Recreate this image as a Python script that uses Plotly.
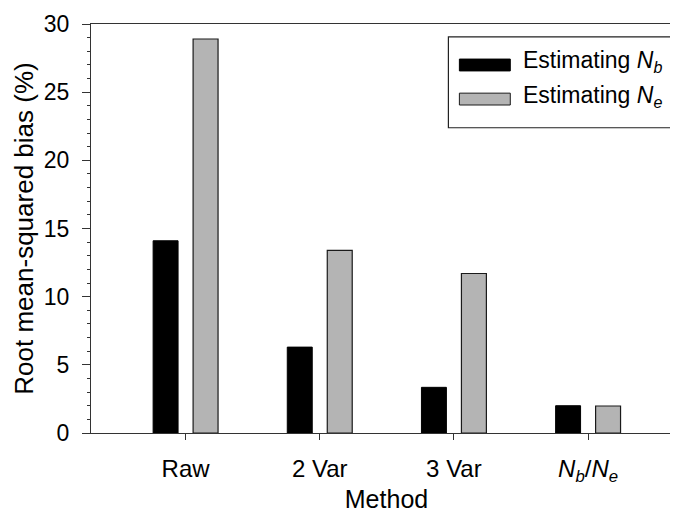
import plotly.graph_objects as go

categories = ["Raw", "2 Var", "3 Var", "Nb/Ne"]
tick_labels = ["Raw", "2 Var", "3 Var", "<i>N<sub>b</sub></i>/<i>N<sub>e</sub></i>"]
nb_values = [14.1, 6.3, 3.35, 2.0]
ne_values = [28.9, 13.4, 11.7, 1.98]
series_names = ["Estimating <i>N<sub>b</sub></i>", "Estimating <i>N<sub>e</sub></i>"]
y_ticks = [0, 5, 10, 15, 20, 25, 30]

FONT = "Liberation Sans, Arial, sans-serif"
W, H = 678, 516
L, R, T, B = 83, 675, 11, 425

fig = go.Figure()
fig.add_trace(go.Bar(x=categories, y=nb_values, name=series_names[0],
                     marker=dict(color="#000000", line=dict(color="#000000", width=1)),
                     width=0.186, offset=-0.242, showlegend=False))
fig.add_trace(go.Bar(x=categories, y=ne_values, name=series_names[1],
                     marker=dict(color="#b4b4b4", line=dict(color="#1a1a1a", width=1.2)),
                     width=0.186, offset=0.056, showlegend=False))

def px_x(px):
    return (px - L) / (R - L)

def px_y(py):
    return (B - py) / (B - T)

shapes = [
    dict(type="rect", xref="paper", yref="paper",
         x0=px_x(441), x1=px_x(667), y0=px_y(116), y1=px_y(24),
         line=dict(color="#222222", width=1.2), fillcolor="white"),
    dict(type="rect", xref="paper", yref="paper",
         x0=px_x(452), x1=px_x(503), y0=px_y(58.5), y1=px_y(46.5),
         line=dict(color="#000000", width=1), fillcolor="#000000"),
    dict(type="rect", xref="paper", yref="paper",
         x0=px_x(452), x1=px_x(503), y0=px_y(93), y1=px_y(81),
         line=dict(color="#1a1a1a", width=1), fillcolor="#b4b4b4"),
]

annotations = [
    dict(text=series_names[0], xref="paper", yref="paper", x=px_x(514), y=px_y(49),
         xanchor="left", yanchor="middle", showarrow=False,
         font=dict(family=FONT, size=23, color="#000000")),
    dict(text=series_names[1], xref="paper", yref="paper", x=px_x(514), y=px_y(84),
         xanchor="left", yanchor="middle", showarrow=False,
         font=dict(family=FONT, size=23, color="#000000")),
]

fig.update_layout(
    width=W, height=H,
    margin=dict(l=L, r=W - R, t=T, b=H - B),
    plot_bgcolor="white", paper_bgcolor="white",
    font=dict(family=FONT, size=22, color="#000000"),
    barmode="overlay",
    shapes=shapes, annotations=annotations,
    showlegend=False,
)
fig.update_xaxes(
    type="category", range=[-0.705, 3.70],
    tickvals=categories, ticktext=tick_labels,
    ticks="outside", ticklen=6, tickwidth=1, tickcolor="#333333",
    showline=True, linecolor="#333333", linewidth=1.3, mirror=True,
    showgrid=False, zeroline=False,
    tickfont=dict(family=FONT, size=24),
    ticklabelstandoff=8,
    title=dict(text="Method", font=dict(family=FONT, size=25), standoff=5),
)
fig.update_yaxes(
    range=[0, 30], tickvals=y_ticks,
    ticks="outside", ticklen=8, tickwidth=1, tickcolor="#333333",
    minor=dict(dtick=1, ticks="outside", ticklen=3, tickcolor="#333333", tickwidth=1),
    showline=True, linecolor="#333333", linewidth=1.3, mirror=True,
    showgrid=False, zeroline=False,
    tickfont=dict(family=FONT, size=23),
    ticklabelstandoff=8, ticklabeloverflow="allow",
    title=dict(text="Root mean-squared bias (%)", font=dict(family=FONT, size=26), standoff=2),
)

fig.write_html("out.html")
